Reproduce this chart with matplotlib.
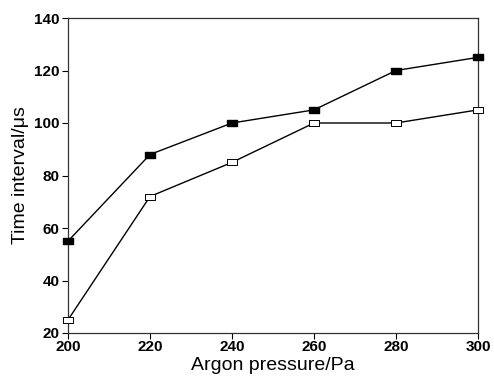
import matplotlib
matplotlib.use("Agg")
import matplotlib.pyplot as plt

pressure = [200, 220, 240, 260, 280, 300]
filled_series = [55, 88, 100, 105, 120, 125]
open_series = [25, 72, 85, 100, 100, 105]
x_ticks = [200, 220, 240, 260, 280, 300]
y_ticks = [20, 40, 60, 80, 100, 120, 140]

plt.rcParams['font.family'] = ['Liberation Sans', 'DejaVu Sans']

rect = [(-1, -0.72), (1, -0.72), (1, 0.72), (-1, 0.72), (-1, -0.72)]

fig = plt.figure(figsize=(4.94, 3.79), dpi=100)
ax = fig.add_axes([68/494, 1-333/379, (478-68)/494, (333-18)/379])

ax.plot(pressure, filled_series, color='black', lw=1.0, marker=rect, ms=6.5,
        mfc='black', mec='black', clip_on=False, zorder=3)
ax.plot(pressure, open_series, color='black', lw=1.0, marker=rect, ms=6.5,
        mfc='white', mec='black', mew=0.7, clip_on=False, zorder=3)

ax.set_xlim(200, 300)
ax.set_ylim(20, 140)
ax.set_xticks(x_ticks)
ax.set_yticks(y_ticks)
ax.set_xticklabels([str(v) for v in x_ticks], fontweight='bold', fontsize=11)
ax.set_yticklabels([str(v) for v in y_ticks], fontweight='bold', fontsize=11)
ax.tick_params(direction='out', length=4, width=0.8, pad=2)
ax.tick_params(axis='x', pad=1)
for s in ax.spines.values():
    s.set_linewidth(0.9)
    s.set_color('#333333')

ax.set_xlabel('Argon pressure/Pa', fontsize=14, labelpad=2)
ax.set_ylabel('Time interval/\u03bcs', fontsize=14, labelpad=4)

fig.savefig('out.png', dpi=100)
